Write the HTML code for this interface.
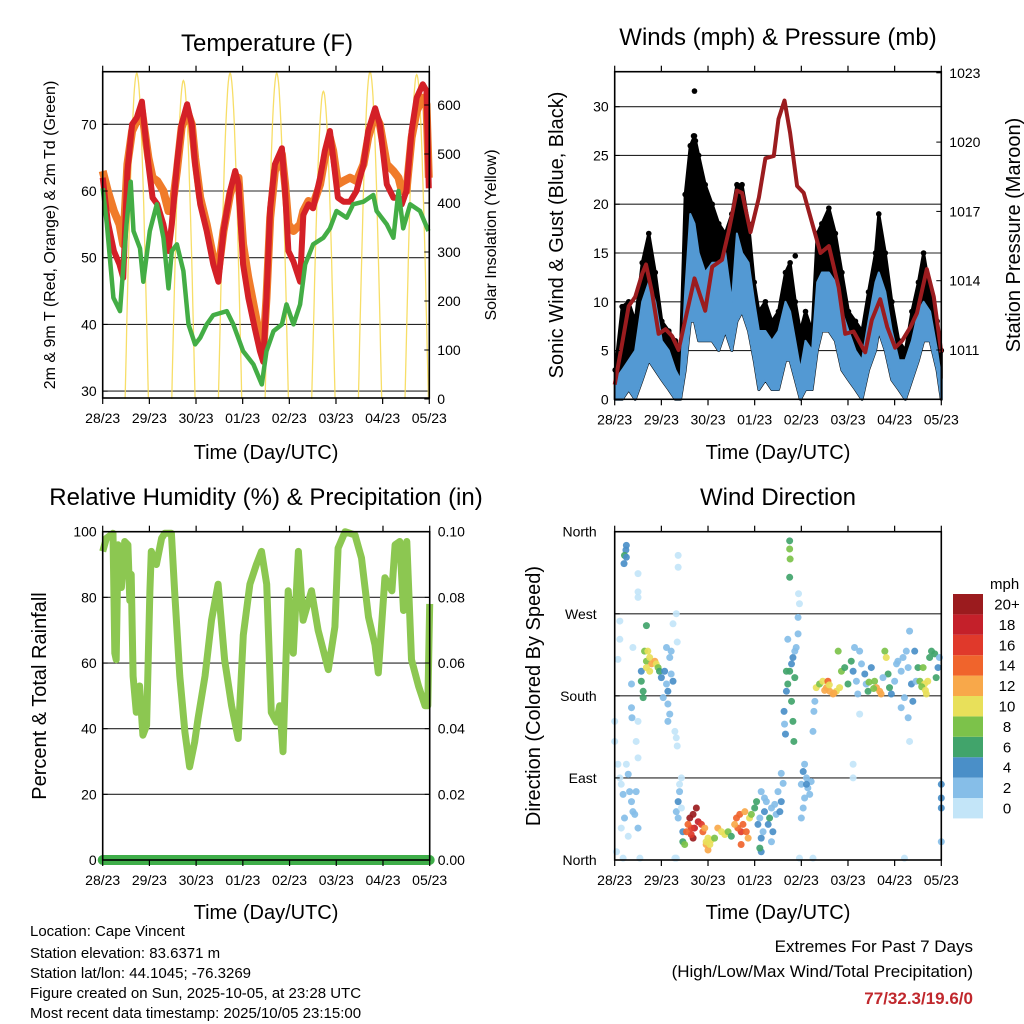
<!DOCTYPE html>
<html><head><meta charset="utf-8"><style>
body{margin:0;background:#fff}
svg{display:block;font-family:"Liberation Sans",Arial,sans-serif}
</style></head><body>
<svg id="c" xmlns="http://www.w3.org/2000/svg" width="1024" height="1024" viewBox="0 0 1024 1024">
<g id="layer"></g>
<text x="267" y="51" font-size="24" text-anchor="middle">Temperature (F)</text>
<text x="778" y="45" font-size="24" text-anchor="middle">Winds (mph) &amp; Pressure (mb)</text>
<text x="266" y="505" font-size="24" text-anchor="middle">Relative Humidity (%) &amp; Precipitation (in)</text>
<text x="778" y="505" font-size="24" text-anchor="middle">Wind Direction</text>
<text x="266" y="459" font-size="20" text-anchor="middle">Time (Day/UTC)</text>
<text x="778" y="459" font-size="20" text-anchor="middle">Time (Day/UTC)</text>
<text x="266" y="919" font-size="20" text-anchor="middle">Time (Day/UTC)</text>
<text x="778" y="919" font-size="20" text-anchor="middle">Time (Day/UTC)</text>
<text transform="translate(55,235) rotate(-90)" font-size="16" text-anchor="middle">2m &amp; 9m T (Red, Orange) &amp; 2m Td (Green)</text>
<text transform="translate(496,235) rotate(-90)" font-size="16" text-anchor="middle">Solar Insolation (Yellow)</text>
<text transform="translate(563,235) rotate(-90)" font-size="20" text-anchor="middle">Sonic Wind &amp; Gust (Blue, Black)</text>
<text transform="translate(1020,235) rotate(-90)" font-size="20" text-anchor="middle">Station Pressure (Maroon)</text>
<text transform="translate(46,696) rotate(-90)" font-size="20" text-anchor="middle">Percent &amp; Total Rainfall</text>
<text transform="translate(540,696) rotate(-90)" font-size="20" text-anchor="middle">Direction (Colored By Speed)</text>
<g font-size="15">
<text x="30" y="936">Location: Cape Vincent</text>
<text x="30" y="958">Station elevation: 83.6371 m</text>
<text x="30" y="978">Station lat/lon: 44.1045; -76.3269</text>
<text x="30" y="998">Figure created on Sun, 2025-10-05, at 23:28 UTC</text>
<text x="30" y="1018">Most recent data timestamp: 2025/10/05 23:15:00</text>
</g>
<text x="973" y="952" font-size="17" text-anchor="end">Extremes For Past 7 Days</text>
<text x="973" y="977" font-size="17" text-anchor="end">(High/Low/Max Wind/Total Precipitation)</text>
<text x="973" y="1004" font-size="17" font-weight="bold" fill="#c0282d" text-anchor="end">77/32.3/19.6/0</text>
</svg>
<script>
const dayLabels=["28/23","29/23","30/23","01/23","02/23","03/23","04/23","05/23"];
// Temperature
const tRedDays=[0,0.11,0.24,0.36,0.44,0.53,0.63,0.73,0.84,0.98,1.07,1.17,1.3,1.41,1.48,1.59,1.69,1.81,1.91,1.98,2.09,2.23,2.37,2.48,2.59,2.73,2.84,2.91,3.01,3.12,3.26,3.37,3.44,3.51,3.59,3.69,3.84,3.91,3.98,4.09,4.23,4.3,4.41,4.51,4.66,4.76,4.87,4.94,5.04,5.16,5.3,5.44,5.59,5.69,5.84,5.94,6.09,6.23,6.34,6.41,6.51,6.62,6.73,6.86,6.94,6.99];
const tRed=[62,55.4,51,49,47,63,70,71,73.4,64,59,58,55,51,55,64,70,73,70,64,58,54,49,46.4,54,60,63,61,49,44,39.4,36,34.4,44,57.4,64,66.4,60,51,49.4,46.4,56.4,58,57.4,62,66,69,65,59,58.4,58.4,60,64,69,72.4,70,61,59,59,58,60,69,74,76,75,60.4];
const tOrange=[63,60,57,55,52,64,69,70.5,72,65,62,61.5,60,57,57,63,69.5,72,70,65,59,55,50,48,54,59.5,62,62,52,47,42,38,36,44,56,63,65.5,61,55,54,55,57,58.5,58,61,65,68,66,61,61.5,62,61.5,64,68,71.5,70,64,63,62,60,60,68,72,74,73,62];
const tdDays=[0,0.09,0.23,0.37,0.51,0.6,0.66,0.8,0.87,1.01,1.16,1.3,1.41,1.48,1.59,1.73,1.84,1.98,2.09,2.23,2.37,2.66,2.8,3.01,3.23,3.41,3.51,3.66,3.84,3.94,4.09,4.23,4.34,4.51,4.73,4.87,5.01,5.23,5.37,5.59,5.8,5.87,6.09,6.23,6.34,6.44,6.59,6.8,6.98];
const tDew=[60.4,55,44,42,55,61.4,54,51.4,46.4,54,58,53,45.4,51,52,48,40,37,38,40,41.4,42,40,36,34,31,36,39,40,43,40,43,49,52,53,54.4,57,56,58,58.4,59.4,57,55,53,60,54.4,58,57,54];
const solarPeak=[665,650,665,665,628,668,662];
const sunRise=[0.48,1.48,2.48,3.48,4.48,5.48,6.48];
const sunSet=[0.98,1.98,2.98,3.98,4.98,5.98,6.98];
// Winds
const wDays=[0.01,0.16,0.3,0.44,0.59,0.73,0.87,1.01,1.16,1.3,1.41,1.51,1.62,1.71,1.8,1.94,2.09,2.23,2.37,2.51,2.62,2.73,2.87,2.99,3.09,3.23,3.37,3.51,3.66,3.76,3.87,3.98,4.09,4.23,4.34,4.44,4.59,4.73,4.87,5.01,5.16,5.3,5.44,5.59,5.66,5.8,5.94,6.09,6.23,6.37,6.51,6.62,6.76,6.91,7.0];
const windLow=[0,0,1,0,2,4,3,2,1,0,0,3,8,8,6,6,6,5,7,5,8,9,7,4,1,2,1,1,4,4,2,0,1,1,5,7,7,6,3,2,1,0,3,5,7,5,2,1,0,2,4,6,6,3,0];
const windHigh=[2,3,4,5,10,12,10,6,5,3,2,11,19,18,15,13,14,14,15,10,17,15,14,10,7,7,6,7,10,9,6,3,6,5,12,13,13,12,9,7,5,4,8,12,13,11,7,4,4,6,9,10,9,5,2];
const gustHigh=[3,9.5,10,8,14,17,13,8,7,6,5,21,26,27,25,22,20,18,17,19,22,22,18,12,9,10,8,9,13,14,10,7,9,7,17,18,19.6,17,13,9,8,7,11,15,19,15,10,6,5,9,12,15,11,8,5];
const gustOutDays=[1.71,3.87,1.69,1.73];
const gustOut=[31.6,14.7,27,26.5];
const pDays=[0,0.16,0.3,0.44,0.59,0.67,0.8,0.94,1.09,1.23,1.37,1.51,1.71,1.94,2.09,2.3,2.44,2.62,2.73,2.91,3.09,3.23,3.41,3.51,3.64,3.76,3.91,4.05,4.23,4.41,4.59,4.8,4.94,5.12,5.37,5.51,5.69,5.84,6.01,6.16,6.34,6.48,6.69,6.84,7.0];
const pres=[1009.5,1011.3,1012.9,1013.3,1014.3,1014.7,1013.5,1011.7,1011.9,1011.6,1011,1012.3,1014.1,1012.7,1014.6,1014.9,1016.1,1017.9,1017.8,1016.1,1017.6,1019.3,1019.4,1021,1021.8,1020.4,1018.1,1017.8,1016.5,1015.2,1015.5,1013.7,1011.7,1011.8,1010.9,1012.3,1013.2,1012,1011.1,1011.4,1012,1012.6,1014.5,1013.3,1010.9];
// RH
const rhDays=[0,0.08,0.22,0.26,0.29,0.33,0.4,0.47,0.54,0.58,0.61,0.65,0.72,0.79,0.86,0.94,1.01,1.04,1.15,1.26,1.33,1.47,1.54,1.65,1.76,1.86,1.97,2.04,2.19,2.33,2.47,2.61,2.76,2.9,3.01,3.15,3.29,3.4,3.51,3.61,3.72,3.79,3.86,3.97,4.08,4.19,4.29,4.47,4.61,4.83,4.97,5.04,5.19,5.4,5.54,5.69,5.83,5.9,6.04,6.19,6.26,6.36,6.44,6.51,6.61,6.76,6.9,6.96,7.0];
const rh=[94,98,99.5,63,61,96,83,97,96,79,87,56,45,53,38,41,82,94,90,98,99.5,99.5,82,56,39,28.4,36,43,56,73,84,61,47,37,68.5,84,90,94,84,45,42,47,33,82,63,94,73,82,70,58,71,95,100,99,92,74,65.5,57,86,82,96,97,76,97,61,53,47,47,78];
const precipDays=[0,7];
const precip=[0,0];
// Wind direction
const dirDays=[0.04,0.07,0.11,0.14,0.18,0.21,0.25,0.29,0.32,0.36,0.39,0.43,0.46,0.5,0.11,0.11,0.07,0,0,0.39,0.36,0.36,0.37,0.5,0.5,0.46,0.54,0.14,0.29,0.18,0.25,0.24,0.21,0.2,0.25,0.5,0.5,0.5,0.57,0.61,0.57,0.64,0.68,0.71,0.75,0.79,0.86,0.89,0.93,0.96,0.68,0.75,1.0,1.07,1.11,1.14,1.18,1.21,1.25,1.14,1.18,1.21,0.68,0.61,1.14,1.29,1.32,1.34,1.25,1.32,1.36,1.36,1.34,1.11,1.04,1.29,1.32,1.36,1.39,1.39,1.43,1.32,1.36,1.43,1.46,1.46,1.5,1.61,1.68,1.75,1.71,1.64,1.57,1.79,1.86,1.89,1.93,1.68,1.64,1.54,1.96,2.0,2.07,2.14,2.21,2.29,2.36,2.43,2.5,2.61,2.68,2.75,2.71,2.79,2.82,2.86,2.64,2.57,2.71,2.89,2.93,1.96,2.0,2.04,3.0,3.04,3.07,3.11,3.14,3.18,3.21,3.25,3.29,3.32,3.36,3.39,3.43,3.46,3.5,3.54,3.57,3.61,3.57,3.14,3.11,3.36,3.21,3.14,3.64,3.66,3.63,3.68,3.71,3.75,3.79,3.82,3.86,3.89,3.93,3.93,3.96,3.94,3.71,3.79,3.82,3.84,3.75,3.75,3.76,3.75,3.68,3.86,4.0,4.04,4.07,4.11,4.14,4.18,4.07,4.04,4.0,4.21,4.11,3.96,4.25,4.25,4.27,4.29,4.32,4.39,4.46,4.54,4.61,4.68,4.75,4.82,4.57,4.79,4.86,4.93,5.0,5.07,5.11,5.14,5.18,5.21,5.25,5.29,5.36,5.39,5.43,5.5,5.57,5.61,5.68,5.71,5.79,5.82,5.86,5.89,5.93,6.0,6.04,6.07,6.14,6.18,6.21,6.25,6.29,6.32,6.36,6.39,6.43,6.46,6.5,6.54,6.61,6.64,6.68,6.71,6.75,6.79,6.86,6.89,6.93,6.96,6.14,6.29,6.32,5.25,5.11,5.11,7.0,7.0,7.0,7.0,6.21,4.5,4.6,4.7,5.45,5.55,5.75,6.58,6.66];
const dirDeg=[9,105,90,83,72,46,105,94,75,64,53,50,75,35,262,242,220,152,130,233,193,167,156,152,112,130,2,35,26,2,345,340,334,325,332,314,294,288,196,185,207,229,218,229,222,215,218,215,211,207,211,207,200,207,193,185,222,229,196,171,160,204,257,178,152,141,134,125,259,270,334,321,239,233,178,2,2,64,83,75,90,53,46,57,31,20,17,46,50,57,35,35,39,42,39,31,35,24,28,31,17,24,22,24,35,31,28,31,26,46,50,39,31,53,31,24,35,39,17,46,50,20,11,17,57,64,39,46,24,31,53,64,39,46,57,31,61,50,75,53,64,84,95,9,13,20,68,75,149,138,163,185,193,207,215,222,229,233,248,266,281,292,242,174,152,130,350,341,330,310,207,200,83,97,105,90,79,72,68,57,46,86,83,2,2,141,163,174,189,193,196,189,185,182,185,189,196,229,207,211,193,218,207,233,196,182,229,215,204,193,185,211,196,189,185,182,229,222,204,189,182,196,215,218,207,222,178,229,211,251,193,174,229,196,211,196,211,193,182,196,222,229,226,200,211,222,167,156,130,160,105,90,83,68,57,20,2,186,192,183,195,188,200,190,186];
const dirSpeed=[1,1,1,1,2,3,1,2,2,3,2,3,2,2,1,1,1,1,1,1,2,3,3,1,1,1,1,1,1,1,5,5,6,4,4,1,1,1,7,6,5,8,9,10,11,12,12,10,8,7,10,10,5,4,3,4,3,2,4,3,3,2,6,6,2,1,1,1,1,1,1,1,1,2,3,1,1,4,1,2,1,2,2,1,5,7,8,20,22,21,19,17,15,18,16,14,13,20,16,14,12,11,10,9,12,10,10,8,6,14,15,14,16,13,14,12,15,13,14,10,9,11,12,10,6,7,4,3,4,3,4,2,5,7,3,4,3,3,3,4,4,3,2,4,7,2,3,2,3,4,4,5,6,6,4,5,3,3,2,2,1,1,3,7,6,6,6,8,8,6,7,6,3,4,3,3,2,2,3,2,2,3,4,1,1,2,3,2,10,9,11,12,13,12,11,10,14,9,8,7,7,6,4,2,2,3,2,2,4,3,6,4,8,12,13,12,9,10,7,6,5,3,2,2,2,2,2,2,3,2,4,5,4,3,6,8,9,10,10,11,7,6,7,6,4,3,2,2,1,1,1,1,4,4,4,2,1,12,11,13,8,9,3,9,10];
const speedLabels=["0","2","4","6","8","10","12","14","16","18","20+"];
const speedColors=["#c3e5f8","#86bee8","#4a8fc8","#41a46b","#7cc24a","#e8e05a","#f8a84a","#f0642c","#e0392b","#c4202a","#9b1b1e"];

const NS="http://www.w3.org/2000/svg";
const layer=document.getElementById('layer');
function mk(tag,attrs,parent){const e=document.createElementNS(NS,tag);for(const k in attrs)e.setAttribute(k,attrs[k]);(parent||layer).appendChild(e);return e;}
function lin(d0,d1,r0,r1){return v=>r0+(v-d0)/(d1-d0)*(r1-r0);}

function panel(name,x0,x1,y0,y1){
  const g=mk('g',{});
  
  
  return {g,x:lin(0,7,x0,x1),x0,x1,y0,y1};
}
function frame(p,name){
  const r=mk('rect',{x:p.x0,y:p.y0,width:p.x1-p.x0,height:p.y1-p.y0,fill:'none',stroke:'#000','stroke-width':1.6},p.g);
  
  
  for(let i=0;i<dayLabels.length;i++){
    const xx=p.x(i);
    mk('line',{x1:xx,x2:xx,y1:p.y1,y2:p.y1+6,stroke:'#000','stroke-width':1.2},p.g);
    mk('line',{x1:xx,x2:xx,y1:p.y0,y2:p.y0-6,stroke:'#000','stroke-width':1.2},p.g);
    const t=mk('text',{x:xx,y:p.y1+25,'font-size':14,'text-anchor':'middle'},p.g);
    t.textContent=dayLabels[i];
    
    
  }
}
function grid(p,ys){
  ys.forEach((yy)=>{
    mk('line',{x1:p.x0,x2:p.x1,y1:yy,y2:yy,stroke:'#000','stroke-width':1.1,opacity:0.85},p.g);
  });
}
function yLabels(p,ys,labels,side,dx){
  ys.forEach((yy,i)=>{
    const xt=side==='left'?p.x0:p.x1;
    mk('line',{x1:xt,x2:side==='left'?xt+5:xt-5,y1:yy,y2:yy,stroke:'#000','stroke-width':1},p.g);
    const t=mk('text',{x:side==='left'?p.x0-(dx||6):p.x1+(dx||6),y:yy+5,'font-size':14,'text-anchor':side==='left'?'end':'start'},p.g);
    t.textContent=labels[i];
    
    
  });
}
function pts(xs,ys,fx,fy){return xs.map((d,i)=>fx(d).toFixed(1)+','+fy(ys[i]).toFixed(1)).join(' ');}

// ---------- Temperature panel
{
const p=panel('temperature-chart',102.7,429.3,71.7,398);
const yT=lin(70,60,124.3,191);
const yS=lin(0,600,399,105);
grid(p,[30,40,50,60,70].map(yT));
for(let k=0;k<solarPeak.length;k++){
  const a=[];
  for(let s=0;s<=40;s++){const f=s/40;const d=sunRise[k]+(sunSet[k]-sunRise[k])*f;a.push(p.x(d).toFixed(1)+','+yS(solarPeak[k]*Math.sin(Math.PI*f)).toFixed(1));}
  const pl=mk('polyline',{points:a.join(' '),fill:'none',stroke:'#f6d84c','stroke-width':1.3,opacity:0.85},p.g);
  
  
}
const o=mk('polyline',{points:pts(tRedDays,tOrange,p.x,yT),fill:'none',stroke:'#f07b2a','stroke-width':8,'stroke-linejoin':'round'},p.g);


const r=mk('polyline',{points:pts(tRedDays,tRed,p.x,yT),fill:'none',stroke:'#d42027','stroke-width':6,'stroke-linejoin':'round'},p.g);


const gl=mk('polyline',{points:pts(tdDays,tDew,p.x,yT),fill:'none',stroke:'#43ad45','stroke-width':4.5,'stroke-linejoin':'round'},p.g);


frame(p,'temperature');
yLabels(p,[30,40,50,60,70].map(yT),['30','40','50','60','70'],'left');
yLabels(p,[0,100,200,300,400,500,600].map(yS),['0','100','200','300','400','500','600'],'right',8);
}

// ---------- Wind panel
{
const p=panel('wind-chart',614.7,941.3,71.7,399.3);
const yW=lin(0,30,399.3,106.7);
const yP=lin(1011,1023,350,72.8);
grid(p,[5,10,15,20,25,30].map(yW));
const gpts=wDays.map((d,i)=>p.x(d).toFixed(1)+','+yW(gustHigh[i]).toFixed(1)).concat(wDays.slice().reverse().map((d,j)=>{const i=wDays.length-1-j;return p.x(d).toFixed(1)+','+yW(windLow[i]).toFixed(1);}));
const ga=mk('polygon',{points:gpts.join(' '),fill:'#000',stroke:'#000','stroke-width':3,'stroke-linejoin':'round'},p.g);


wDays.forEach((d,i)=>{
  const c=mk('circle',{cx:p.x(d),cy:yW(gustHigh[i]),r:2.8,fill:'#000'},p.g);
  
  
});
gustOutDays.forEach((d,i)=>{
  const c=mk('circle',{cx:p.x(d),cy:yW(gustOut[i]),r:2.8,fill:'#000'},p.g);
  
  
});
const bpts=wDays.map((d,i)=>p.x(d).toFixed(1)+','+yW(windHigh[i]).toFixed(1)).concat(wDays.slice().reverse().map((d,j)=>{const i=wDays.length-1-j;return p.x(d).toFixed(1)+','+yW(windLow[i]).toFixed(1);}));
const ba=mk('polygon',{points:bpts.join(' '),fill:'#5399d3',stroke:'#5399d3','stroke-width':2,'stroke-linejoin':'round'},p.g);


const pl=mk('polyline',{points:pts(pDays,pres,p.x,yP),fill:'none',stroke:'#9b1c1f','stroke-width':4,'stroke-linejoin':'round'},p.g);


frame(p,'wind');
yLabels(p,[0,5,10,15,20,25,30].map(yW),['0','5','10','15','20','25','30'],'left');
yLabels(p,[1011,1014,1017,1020,1023].map(yP),['1011','1014','1017','1020','1023'],'right',8);
}

// ---------- RH panel
{
const p=panel('humidity-chart',102.7,429.7,531.7,860);
const yR=lin(0,100,860,531.7);
const yPr=lin(0,0.1,860,531.7);
grid(p,[20,40,60,80,100].map(yR));
const l=mk('polyline',{points:pts(rhDays,rh,p.x,yR),fill:'none',stroke:'#8cc751','stroke-width':7,'stroke-linejoin':'round'},p.g);


const pr=mk('polyline',{points:pts(precipDays,precip,p.x,yPr),fill:'none',stroke:'#3fae49','stroke-width':10,'stroke-linecap':'round'},p.g);


frame(p,'humidity');
yLabels(p,[0,20,40,60,80,100].map(yR),['0','20','40','60','80','100'],'left');
yLabels(p,[0,0.02,0.04,0.06,0.08,0.1].map(yPr),['0.00','0.02','0.04','0.06','0.08','0.10'],'right',8);
}

// ---------- Wind direction panel
{
const p=panel('wind-direction-chart',614.7,941.3,531.7,860);
const yD=lin(0,360,860,531.7);
grid(p,[90,180,270].map(yD));
dirDays.forEach((d,i)=>{
  const bin=Math.min(10,Math.floor(dirSpeed[i]/2));
  const c=mk('circle',{cx:p.x(d),cy:yD(dirDeg[i]),r:3.5,fill:speedColors[bin],opacity:0.92},p.g);
  
  
});
frame(p,'wind-direction');
yLabels(p,[0,90,180,270,360].map(yD),['North','East','South','West','North'],'left',18);
const cb=mk('g',{});


const t=mk('text',{x:990,y:589,'font-size':15},cb);
t.textContent='mph';


for(let k=0;k<speedColors.length;k++){
  const yy=594+(10-k)*20.4;
  const r=mk('rect',{x:953,y:yy,width:30,height:20.4,fill:speedColors[k]},cb);
  
  
  const lt=mk('text',{x:1007,y:yy+15.5,'font-size':15,'text-anchor':'middle'},cb);
  lt.textContent=speedLabels[k];
  
  
}
}
</script>
</body></html>
